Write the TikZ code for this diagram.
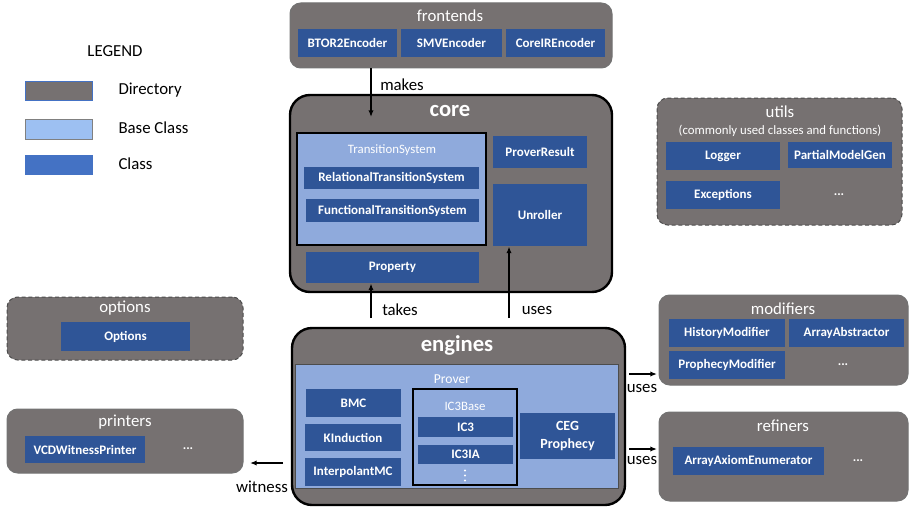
\documentclass[tikz,border=0pt]{standalone}
\usepackage{fontspec}
\setmainfont{Carlito}
\usetikzlibrary{fit,arrows.meta}

\definecolor{dirgray}{RGB}{118,113,113}
\definecolor{classblue}{RGB}{47,85,151}
\definecolor{baseblue}{RGB}{143,170,220}
\definecolor{legbase}{RGB}{157,192,242}
\definecolor{legclass}{RGB}{68,114,196}

\tikzset{every picture/.style={line width=0.75pt}}
\tikzset{
  dirbox/.style={draw=black!55, fill=dirgray, rounded corners=8pt, inner sep=0pt},
  maindir/.style={draw=black, line width=1.8pt, fill=dirgray, rounded corners=15pt, inner sep=0pt},
  optdir/.style={dirbox, draw=black!70, dash pattern=on 3pt off 2pt},
  basebox/.style={fill=baseblue, inner sep=0pt},
  boxsize/.style 2 args={minimum width=#1*0.75pt, minimum height=#2*0.75pt},
  classbox/.style={fill=classblue, inner sep=0pt, text=white, align=center, font=\fontsize{9.75}{12}\selectfont\bfseries},
  dirtitle/.style={text=white, inner sep=0.75pt, font=\fontsize{12.6}{14}\selectfont},
  bigtitle/.style={text=white, inner sep=0.75pt, font=\fontsize{17}{19}\selectfont\bfseries},
  basetitle/.style={text=white, inner sep=0.75pt, font=\fontsize{9.6}{11}\selectfont},
  edgelabel/.style={inner sep=0.75pt, font=\fontsize{12.6}{14}\selectfont},
  dots/.style={text=white, inner sep=0.75pt, font=\fontsize{9.75}{11}\selectfont\bfseries},
  arr/.style={-{Latex[length=5pt,width=4pt]}, line width=1pt},
}

\begin{document}
\begin{tikzpicture}[x=0.75pt,y=0.75pt,yscale=-1,xscale=1]
\useasboundingbox (0,0) rectangle (909,510);

% Legend
\node[edgelabel] (legend) at (115,51) {LEGEND};
\node[draw=legclass, fill=dirgray, inner sep=0pt, fit={(25,81) (92,100)}] (legdir) {};
\node[draw=black!50, fill=legbase, inner sep=0pt, fit={(25,119) (92,139)}] (legbase) {};
\node[draw=legclass, fill=legclass, inner sep=0pt, fit={(25,155) (92,174)}] (legclass) {};
\node[edgelabel, anchor=west] (legdirtext) at (117,90) {Directory};
\node[edgelabel, anchor=west] (legbasetext) at (117,128) {Base Class};
\node[edgelabel, anchor=west] (legclasstext) at (117,164) {Class};

% frontends
\node[dirbox, fit={(290,3) (612,68)}] (frontends) {};
\node[dirtitle] (frontendstitle) at (450,16) {frontends};
\node[classbox, boxsize={99}{28}] (btor) at (347.5,43) {BTOR2Encoder};
\node[classbox, boxsize={101}{28}] (smv) at (451.5,43) {SMVEncoder};
\node[classbox, boxsize={99}{28}] (coreir) at (555.5,43) {CoreIREncoder};

% core
\node[maindir, fit={(290,95) (612,292)}] (core) {};
\node[bigtitle] (coretitle) at (450,111) {core};
\node[basebox, draw=black, line width=1.5pt, fit={(297,133) (486,245)}] (ts) {};
\node[basetitle] (tstitle) at (392,150) {TransitionSystem};
\node[classbox, boxsize={175}{22}] (rts) at (391.5,178) {RelationalTransitionSystem};
\node[classbox, boxsize={173}{23}] (fts) at (392.5,210.5) {FunctionalTransitionSystem};
\node[classbox, boxsize={173}{31}] (prop) at (392.5,267.5) {Property};
\node[classbox, boxsize={94}{32}] (result) at (540,152) {ProverResult};
\node[classbox, boxsize={94}{62}] (unroller) at (540,215) {Unroller};

% utils
\node[optdir, fit={(657,98) (902,225)}] (utils) {};
\node[dirtitle] (utilstitle) at (780,112) {utils};
\node[basetitle] (utilsnote) at (780,131) {(commonly used classes and functions)};
\node[classbox, boxsize={114}{28}] (logger) at (723,156) {Logger};
\node[classbox, boxsize={104}{26}] (pmg) at (840,155) {PartialModelGen};
\node[classbox, boxsize={114}{28}] (exc) at (723,195) {Exceptions};
\node[dots] (utilsdots) at (839,195) {...};

% options
\node[optdir, fit={(7,297) (243,360)}] (options) {};
\node[dirtitle] (optionstitle) at (125,308) {options};
\node[classbox, boxsize={129}{29}] (opts) at (125.5,336.5) {Options};

% printers
\node[dirbox, fit={(7,409) (243,473)}] (printers) {};
\node[dirtitle] (printerstitle) at (125,422) {printers};
\node[classbox, boxsize={120}{27}] (vcd) at (85,449.5) {VCDWitnessPrinter};
\node[dots] (printersdots) at (188,449) {...};

% engines
\node[maindir, fit={(292,328) (625,505)}] (engines) {};
\node[bigtitle] (enginestitle) at (457,345) {engines};
\node[basebox, draw=black!70, fit={(295,364) (618,488)}] (prover) {};
\node[basetitle, font=\fontsize{10.2}{12}\selectfont] (provertitle) at (452,379) {Prover};
\node[classbox, boxsize={95}{28}] (bmc) at (353.5,403) {BMC};
\node[classbox, boxsize={96}{27}] (kind) at (353,437.5) {KInduction};
\node[classbox, boxsize={96}{28}] (interp) at (353,472) {InterpolantMC};
\node[basebox, draw=black, line width=1.5pt, fit={(413,389) (517,485)}] (ic3base) {};
\node[basetitle] (ic3basetitle) at (465,406) {IC3Base};
\node[classbox, boxsize={95}{20}] (ic3) at (465.5,427) {IC3};
\node[classbox, boxsize={95}{19}] (ic3ia) at (465.5,454.5) {IC3IA};
\fill[white] (465,470.5) circle (1.2) (465,475.5) circle (1.2) (465,480.5) circle (1.2);
\node[classbox, font=\fontsize{10.5}{13}\selectfont\bfseries, boxsize={95}{46}] (ceg) at (567.5,436) {CEG\\Prophecy};

% modifiers
\node[dirbox, fit={(659,295) (908,385)}] (modifiers) {};
\node[dirtitle] (modifierstitle) at (783,309) {modifiers};
\node[classbox, boxsize={116}{28}] (history) at (727,333) {HistoryModifier};
\node[classbox, boxsize={115}{28}] (abstractor) at (846.5,333) {ArrayAbstractor};
\node[classbox, boxsize={116}{28}] (prophecy) at (727,365) {ProphecyModifier};
\node[dots] (modifiersdots) at (843,365) {...};

% refiners
\node[dirbox, fit={(659,412) (908,501)}] (refiners) {};
\node[dirtitle] (refinerstitle) at (783,426) {refiners};
\node[classbox, boxsize={151}{28}] (axiom) at (748.5,461) {ArrayAxiomEnumerator};
\node[dots] (refinersdots) at (858,461) {...};

% connectors
\coordinate (makesend) at (371,117);
\draw[arr] (makesend |- frontends.south) -- (makesend);
\node[edgelabel] (makeslabel) at (402,85) {makes};

\coordinate (takesstart) at (371,318);
\draw[arr] (takesstart) -- (takesstart |- prop.south);
\node[edgelabel] (takeslabel) at (400,310) {takes};

\coordinate (usesstart) at (509,318);
\draw[arr] (usesstart) -- (usesstart |- unroller.south);
\node[edgelabel] (useslabel) at (537,310) {uses};

\coordinate (witnessstart) at (283,463);
\coordinate (witnessend) at (250,463);
\draw[arr] (witnessstart) -- (witnessend);
\node[edgelabel] (witnesslabel) at (262,487) {witness};

\coordinate (modstart) at (629,374);
\coordinate (modend) at (657,374);
\draw[arr] (modstart) -- (modend);
\node[edgelabel] (modlabel) at (642,388) {uses};

\coordinate (refstart) at (629,449);
\coordinate (refend) at (657,449);
\draw[arr] (refstart) -- (refend);
\node[edgelabel] (reflabel) at (642,460) {uses};
\end{tikzpicture}
\end{document}
